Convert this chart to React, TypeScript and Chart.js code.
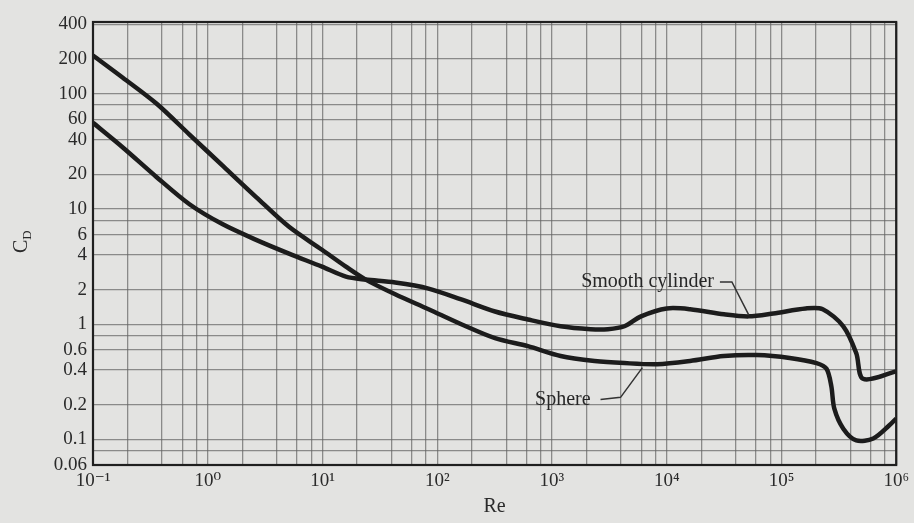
import React, { useEffect, useRef } from 'react';
import { Chart, registerables } from 'chart.js';

Chart.register(...registerables);

// ---- Data ----
const sphereRe = [0.1, 0.182, 0.359, 0.693, 1.34, 2.64, 5.11, 9.9, 16, 23.8, 43, 84, 162, 319, 617, 1190, 2350, 4280, 8270, 16000, 31500, 61000, 118000, 202000, 247000, 272000, 289000, 346000, 449000, 631000, 867000, 1000000];
const sphereCd = [215, 138, 82, 44.3, 23.9, 12.7, 7.0, 4.43, 3.16, 2.44, 1.82, 1.35, 1.0, 0.757, 0.645, 0.53, 0.48, 0.46, 0.45, 0.48, 0.53, 0.54, 0.51, 0.46, 0.41, 0.29, 0.185, 0.124, 0.098, 0.102, 0.132, 0.152];

const cylinderRe = [0.1, 0.182, 0.359, 0.693, 1.34, 2.64, 5.11, 9.9, 16, 23.8, 43, 84, 162, 319, 617, 1190, 2170, 3070, 4280, 5970, 10000, 16000, 31500, 51800, 85000, 163000, 229000, 346000, 449000, 514000, 1000000];
const cylinderCd = [56, 34.2, 18.9, 11.0, 7.4, 5.4, 4.1, 3.16, 2.59, 2.44, 2.3, 2.04, 1.64, 1.29, 1.1, 0.96, 0.905, 0.905, 0.96, 1.17, 1.37, 1.35, 1.22, 1.17, 1.24, 1.37, 1.35, 0.96, 0.56, 0.336, 0.39];

// Tick / grid values and labels
const xGridValues = [0.1, 0.2, 0.4, 0.6, 0.8, 1, 2, 4, 6, 8, 10, 20, 40, 60, 80, 100, 200, 400, 600, 800, 1000, 2000, 4000, 6000, 8000, 10000, 20000, 40000, 60000, 80000, 100000, 200000, 400000, 600000, 800000, 1000000];
const xLabelValues = [0.1, 1, 10, 100, 1000, 10000, 100000, 1000000];
const xLabelTexts = ['10\u207B\u00B9', '10\u2070', '10\u00B9', '10\u00B2', '10\u00B3', '10\u2074', '10\u2075', '10\u2076'];

const yGridValues = [0.06, 0.08, 0.1, 0.2, 0.4, 0.6, 0.8, 1, 2, 4, 6, 8, 10, 20, 40, 60, 80, 100, 200, 400];
const yLabelValues = [0.06, 0.1, 0.2, 0.4, 0.6, 1, 2, 4, 6, 10, 20, 40, 60, 100, 200, 400];
const yLabelTexts = ['0.06', '0.1', '0.2', '0.4', '0.6', '1', '2', '4', '6', '10', '20', '40', '60', '100', '200', '400'];

const xTitle = 'Re';
const yTitleMain = 'C';
const yTitleSub = 'D';

// Annotation labels with leader lines (data coordinates)
const cylinderLabel = 'Smooth cylinder';
const cylinderLabelAt = { re: 25800, cd: 2.35 };
const cylinderLeader = [ { re: 29100, cd: 2.33 }, { re: 37000, cd: 2.33 }, { re: 52000, cd: 1.2 } ];
const sphereLabel = 'Sphere';
const sphereLabelAt = { re: 2170, cd: 0.222 };
const sphereLeader = [ { re: 2650, cd: 0.222 }, { re: 3960, cd: 0.232 }, { re: 6140, cd: 0.42 } ];

const SERIF = '"Liberation Serif", "DejaVu Serif", Times, serif';

function findLabel(values: number[], texts: string[], v: number): string {
  for (let i = 0; i < values.length; i++) {
    if (Math.abs(Math.log10(values[i]) - Math.log10(v)) < 1e-6) return texts[i];
  }
  return '';
}

const decorPlugin = {
  id: 'decor',
  beforeDraw(chart: any) {
    const ctx = chart.ctx;
    ctx.save();
    ctx.fillStyle = '#e3e3e1';
    ctx.fillRect(0, 0, chart.width, chart.height);
    ctx.restore();
  },
  afterDraw(chart: any) {
    const ctx = chart.ctx;
    const { left, right, top, bottom } = chart.chartArea;
    const xs = chart.scales.x;
    const ys = chart.scales.y;
    ctx.save();
    // frame
    ctx.strokeStyle = '#1f1f1f';
    ctx.lineWidth = 2.2;
    ctx.strokeRect(left, top, right - left, bottom - top);

    // y title C_D rotated
    ctx.translate(21, 243);
    ctx.rotate(-Math.PI / 2);
    ctx.fillStyle = '#2a2a2a';
    ctx.textBaseline = 'alphabetic';
    ctx.textAlign = 'left';
    ctx.font = '20px ' + SERIF;
    const cw = ctx.measureText(yTitleMain).width;
    ctx.fillText(yTitleMain, -10, 6);
    ctx.font = '13px ' + SERIF;
    ctx.fillText(yTitleSub, -10 + cw, 10);
    ctx.setTransform(1, 0, 0, 1, 0, 0);

    // annotations
    const px = (p: { re: number; cd: number }) => [xs.getPixelForValue(p.re), ys.getPixelForValue(p.cd)];
    ctx.font = '20px ' + SERIF;
    ctx.fillStyle = '#262626';
    ctx.textAlign = 'right';
    ctx.textBaseline = 'middle';
    let [tx, ty] = px(cylinderLabelAt);
    ctx.fillText(cylinderLabel, tx, ty);
    [tx, ty] = px(sphereLabelAt);
    ctx.fillText(sphereLabel, tx, ty);

    ctx.strokeStyle = '#333';
    ctx.lineWidth = 1.5;
    for (const leader of [cylinderLeader, sphereLeader]) {
      ctx.beginPath();
      leader.forEach((p, i) => {
        const [x, y] = px(p);
        if (i === 0) ctx.moveTo(x, y); else ctx.lineTo(x, y);
      });
      ctx.stroke();
    }
    ctx.restore();
  },
};

export default function App() {
  const canvasRef = useRef<HTMLCanvasElement | null>(null);

  useEffect(() => {
    if (!canvasRef.current) return;
    const lineStyle = {
      borderColor: '#1c1c1c',
      borderWidth: 4.5,
      pointRadius: 0,
      fill: false,
      tension: 0.3,
      borderJoinStyle: 'round' as const,
    };
    const chart = new Chart(canvasRef.current, {
      type: 'line',
      data: {
        datasets: [
          { label: 'Sphere', data: sphereRe.map((r, i) => ({ x: r, y: sphereCd[i] })), ...lineStyle },
          { label: 'Smooth cylinder', data: cylinderRe.map((r, i) => ({ x: r, y: cylinderCd[i] })), ...lineStyle },
        ],
      },
      options: {
        animation: false,
        responsive: true,
        maintainAspectRatio: false,
        layout: { padding: { top: 22, right: 13, left: 0, bottom: 0 } },
        plugins: { legend: { display: false }, tooltip: { enabled: false } },
        scales: {
          x: {
            type: 'logarithmic',
            min: 0.1,
            max: 1000000,
            afterBuildTicks: (scale: any) => { scale.ticks = xGridValues.map((v) => ({ value: v })); },
            afterFit: (scale: any) => { scale.height = 58; },
            ticks: {
              autoSkip: false,
              maxRotation: 0,
              padding: 5,
              color: '#2a2a2a',
              font: { family: SERIF, size: 19 },
              callback: (v: any) => findLabel(xLabelValues, xLabelTexts, Number(v)),
            },
            grid: { color: 'rgba(100,100,100,0.7)', lineWidth: 1.3, drawTicks: false },
            border: { display: false },
            title: { display: true, text: xTitle, color: '#2a2a2a', font: { family: SERIF, size: 20 }, padding: { top: 0, bottom: 4 } },
          },
          y: {
            type: 'logarithmic',
            min: 0.06,
            max: 420,
            afterBuildTicks: (scale: any) => { scale.ticks = yGridValues.map((v) => ({ value: v })); },
            afterFit: (scale: any) => { scale.width = 93; },
            ticks: {
              autoSkip: false,
              padding: 6,
              color: '#2a2a2a',
              font: { family: SERIF, size: 19 },
              callback: (v: any) => findLabel(yLabelValues, yLabelTexts, Number(v)),
            },
            grid: { color: 'rgba(100,100,100,0.7)', lineWidth: 1.3, drawTicks: false },
            border: { display: false },
          },
        },
      },
      plugins: [decorPlugin],
    } as any);
    return () => chart.destroy();
  }, []);

  return (
    <div style={{ position: 'absolute', left: 0, top: 0, width: 914, height: 523 }}>
      <canvas ref={canvasRef} />
    </div>
  );
}
